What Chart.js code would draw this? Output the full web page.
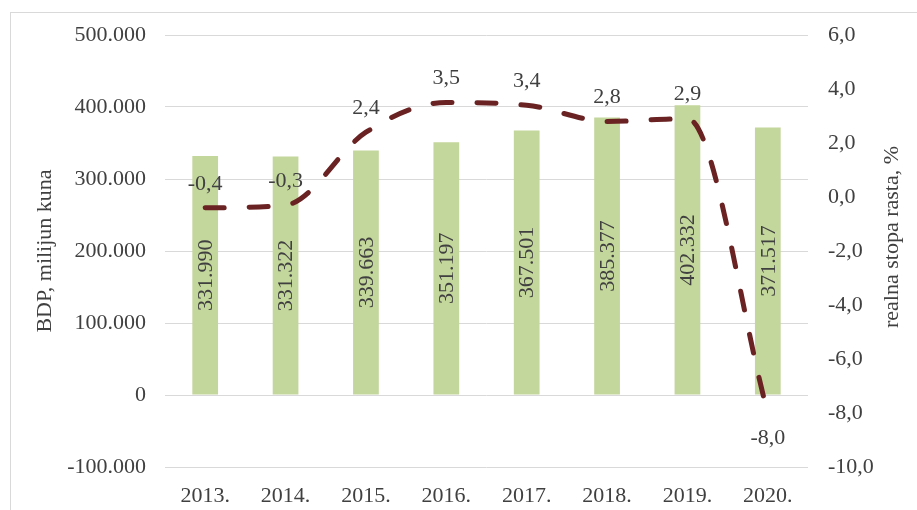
<!DOCTYPE html>
<html>
<head>
<meta charset="utf-8">
<script src="https://cdn.jsdelivr.net/npm/chart.js@4.4.0/dist/chart.umd.min.js"></script>
<style>
  html, body { margin: 0; padding: 0; background: #fff; overflow: hidden; }
  #wrap { position: relative; width: 917px; height: 510px; }
  #frame { position: absolute; left: 10px; top: 12px; width: 940px; height: 540px; border: 1px solid #d9d9d9; }
  #chartBdp { position: absolute; left: 0; top: 0; }
</style>
</head>
<body>
<div id="wrap">
  <div id="frame"></div>
  <canvas id="chartBdp" width="917" height="510"></canvas>
</div>
<script>
const years = ["2013.", "2014.", "2015.", "2016.", "2017.", "2018.", "2019.", "2020."];
const bdp = [331990, 331322, 339663, 351197, 367501, 385377, 402332, 371517];
const stopaRasta = [-0.4, -0.3, 2.4, 3.5, 3.4, 2.8, 2.9, -8.0];
const bdpTicks = [-100000, 0, 100000, 200000, 300000, 400000, 500000];
const stopaTicks = [-10, -8, -6, -4, -2, 0, 2, 4, 6];

const textColor = "#404040";
const serif = "'Liberation Serif', 'Times New Roman', serif";
const fontSize = 22;

const formatBdp = (v) => {
  const s = String(Math.abs(Math.round(v))).replace(/\B(?=(\d{3})+(?!\d))/g, ".");
  return (v < 0 ? "-" : "") + s;
};
const formatStopa = (v) => v.toFixed(1).replace(".", ",");

// labels on bars and on line points + right axis title
const labelPlugin = {
  id: "labelPlugin",
  afterDatasetsDraw(chart) {
    const ctx = chart.ctx;
    ctx.save();
    ctx.fillStyle = textColor;
    ctx.font = fontSize + "px " + serif;
    ctx.textAlign = "center";
    ctx.textBaseline = "middle";

    chart.getDatasetMeta(1).data.forEach((bar, i) => {
      ctx.save();
      ctx.translate(bar.x, (bar.y + bar.base) / 2);
      ctx.rotate(-Math.PI / 2);
      ctx.fillText(formatBdp(bdp[i]), 0, 1);
      ctx.restore();
    });

    chart.getDatasetMeta(0).data.forEach((pt, i) => {
      const below = i === stopaRasta.length - 1;
      ctx.fillText(formatStopa(stopaRasta[i]), pt.x, pt.y + (below ? 25 : -24));
    });
    ctx.restore();
  },
  afterDraw(chart) {
    const ctx = chart.ctx;
    const area = chart.chartArea;
    ctx.save();
    ctx.fillStyle = textColor;
    ctx.font = fontSize + "px " + serif;
    ctx.textAlign = "center";
    ctx.textBaseline = "middle";
    ctx.translate(area.right + 84, (area.top + area.bottom) / 2 - 14);
    ctx.rotate(-Math.PI / 2);
    ctx.fillText("realna stopa rasta, %", 0, 0);
    ctx.restore();
  }
};

const chartBdp = document.getElementById("chartBdp");

new Chart(chartBdp, {
  data: {
    labels: years,
    datasets: [
      {
        type: "line",
        label: "realna stopa rasta",
        data: stopaRasta,
        yAxisID: "yStopa",
        borderColor: "#6a2222",
        borderWidth: 5,
        borderDash: [19, 25],
        borderCapStyle: "round",
        cubicInterpolationMode: "monotone",
        pointRadius: 0,
        fill: false,
        order: 0,
      },
      {
        type: "bar",
        label: "BDP",
        data: bdp,
        yAxisID: "yBdp",
        backgroundColor: "#c3d69b",
        barPercentage: 0.32,
        categoryPercentage: 1,
        order: 1,
      },
    ],
  },
  options: {
    responsive: false,
    animation: false,
    layout: { padding: { top: 35, left: 0, right: 0, bottom: 0 } },
    plugins: {
      legend: { display: false },
      tooltip: { enabled: false },
    },
    scales: {
      x: {
        grid: { display: false },
        border: { display: false },
        ticks: {
          color: textColor,
          font: { family: serif, size: fontSize },
          padding: 8,
          maxRotation: 0,
        },
        afterFit: (s) => { s.height = 43; },
      },
      yBdp: {
        position: "left",
        min: -100000,
        max: 500000,
        afterBuildTicks: (s) => { s.ticks = bdpTicks.map((v) => ({ value: v })); },
        ticks: {
          color: textColor,
          font: { family: serif, size: fontSize },
          padding: 19,
          callback: (v) => formatBdp(v),
        },
        grid: { color: "#d9d9d9", lineWidth: 1, drawTicks: false },
        border: { display: false },
        title: {
          display: true,
          text: "BDP, milijun kuna",
          color: textColor,
          font: { family: serif, size: fontSize },
          padding: { top: 32, bottom: 0 },
        },
        afterFit: (s) => { s.width = 165; },
      },
      yStopa: {
        position: "right",
        min: -10,
        max: 6,
        afterBuildTicks: (s) => { s.ticks = stopaTicks.map((v) => ({ value: v })); },
        ticks: {
          color: textColor,
          font: { family: serif, size: fontSize },
          padding: 20,
          callback: (v) => formatStopa(v),
        },
        grid: { drawOnChartArea: false, drawTicks: false },
        border: { display: false },
        afterFit: (s) => { s.width = 109; },
      },
    },
  },
  plugins: [labelPlugin],
});
</script>
</body>
</html>
